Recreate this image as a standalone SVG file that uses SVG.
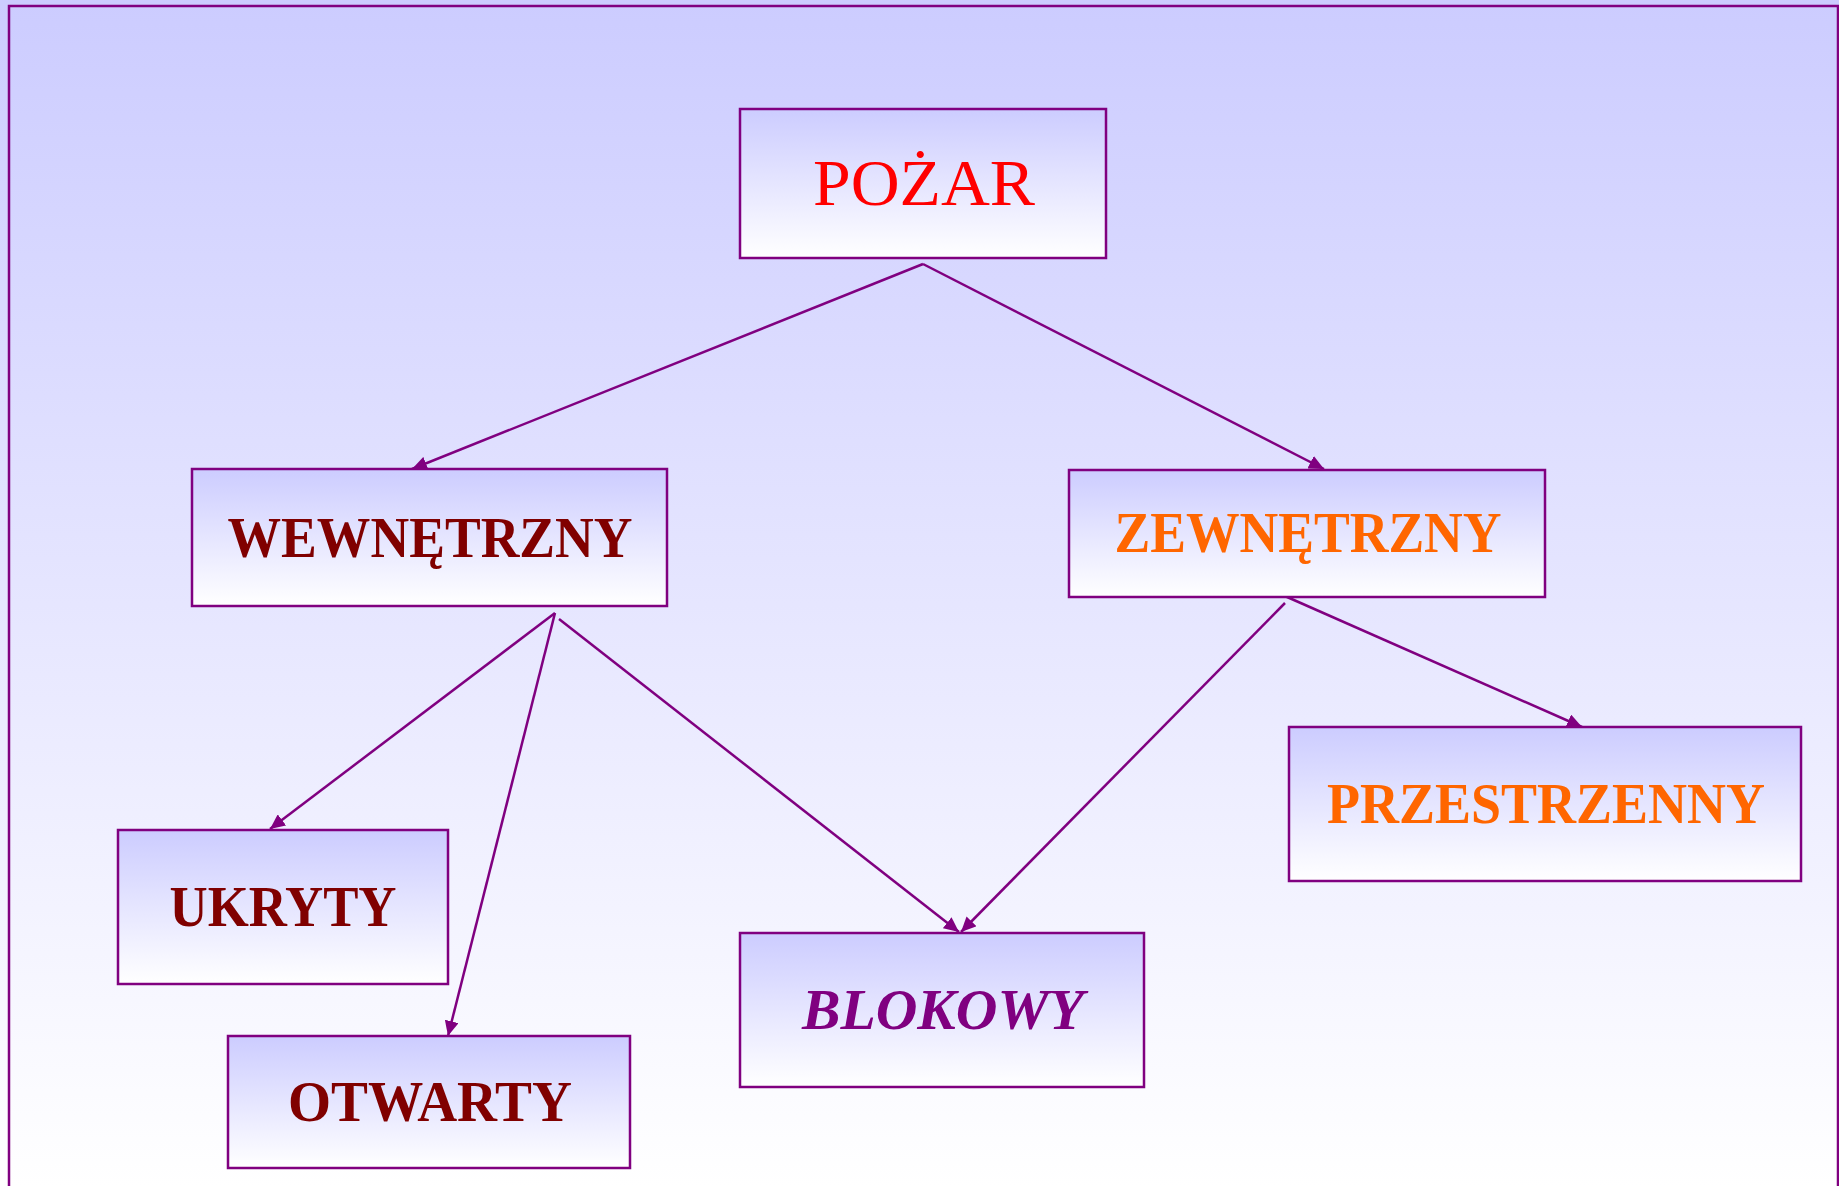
<svg xmlns="http://www.w3.org/2000/svg" width="1839" height="1186" viewBox="0 0 1839 1186">
<defs>
<linearGradient id="bg" x1="0" y1="0" x2="0" y2="1">
<stop offset="0" stop-color="#ccccff"/>
<stop offset="1" stop-color="#ffffff"/>
</linearGradient>
<linearGradient id="nodefill" x1="0" y1="0" x2="0" y2="1">
<stop offset="0" stop-color="#ccccff"/>
<stop offset="1" stop-color="#ffffff"/>
</linearGradient>
<marker id="arrow" markerUnits="userSpaceOnUse" markerWidth="16" markerHeight="14" refX="15" refY="7" orient="auto">
<path d="M0,0 L15,7 L0,14 z" fill="#800080"/>
</marker>
<style>
.box{fill:url(#nodefill);stroke:#800080;stroke-width:2.5}
.lbl{font-family:"Liberation Serif","DejaVu Serif",serif;text-anchor:middle}
.b{font-weight:bold;font-size:56px}
.edge{stroke:#800080;stroke-width:2.5;fill:none;marker-end:url(#arrow)}
</style>
</defs>
<rect x="0" y="0" width="1839" height="1186" fill="url(#bg)"/>
<path d="M9,1190 L9,6 L1838,6 L1838,1190" fill="none" stroke="#800080" stroke-width="2.5"/>

<g id="connectors">
<line class="edge" x1="923" y1="264" x2="412" y2="469"/>
<line class="edge" x1="923" y1="264" x2="1324" y2="469"/>
<line class="edge" x1="555" y1="613" x2="270" y2="829"/>
<line class="edge" x1="555" y1="613" x2="448" y2="1036"/>
<line class="edge" x1="559" y1="619" x2="959" y2="932"/>
<line class="edge" x1="1285" y1="603" x2="961" y2="932"/>
<line class="edge" x1="1278" y1="593" x2="1582" y2="727"/>
</g>

<g id="node-pozar">
<rect class="box" x="740" y="109" width="366" height="149"/>
<text class="lbl" x="924" y="205" font-size="65" fill="#ff0000" textLength="222" lengthAdjust="spacingAndGlyphs">POŻAR</text>
</g>
<g id="node-wewnetrzny">
<rect class="box" x="192" y="469" width="475" height="137"/>
<text class="lbl b" x="430" y="557" fill="#800000" textLength="405" lengthAdjust="spacingAndGlyphs">WEWNĘTRZNY</text>
</g>
<g id="node-zewnetrzny">
<rect class="box" x="1069" y="470" width="476" height="127"/>
<text class="lbl b" x="1308" y="552" fill="#ff6600" textLength="387" lengthAdjust="spacingAndGlyphs">ZEWNĘTRZNY</text>
</g>
<g id="node-przestrzenny">
<rect class="box" x="1289" y="727" width="512" height="154"/>
<text class="lbl b" x="1546" y="823" fill="#ff6600" textLength="438" lengthAdjust="spacingAndGlyphs">PRZESTRZENNY</text>
</g>
<g id="node-ukryty">
<rect class="box" x="118" y="830" width="330" height="154"/>
<text class="lbl b" x="283" y="926" fill="#800000" textLength="227" lengthAdjust="spacingAndGlyphs">UKRYTY</text>
</g>
<g id="node-blokowy">
<rect class="box" x="740" y="933" width="404" height="154"/>
<text class="lbl b" x="943" y="1029" fill="#800080" font-style="italic" textLength="282" lengthAdjust="spacingAndGlyphs">BLOKOWY</text>
</g>
<g id="node-otwarty">
<rect class="box" x="228" y="1036" width="402" height="132"/>
<text class="lbl b" x="430" y="1121" fill="#800000" textLength="284" lengthAdjust="spacingAndGlyphs">OTWARTY</text>
</g>
</svg>
